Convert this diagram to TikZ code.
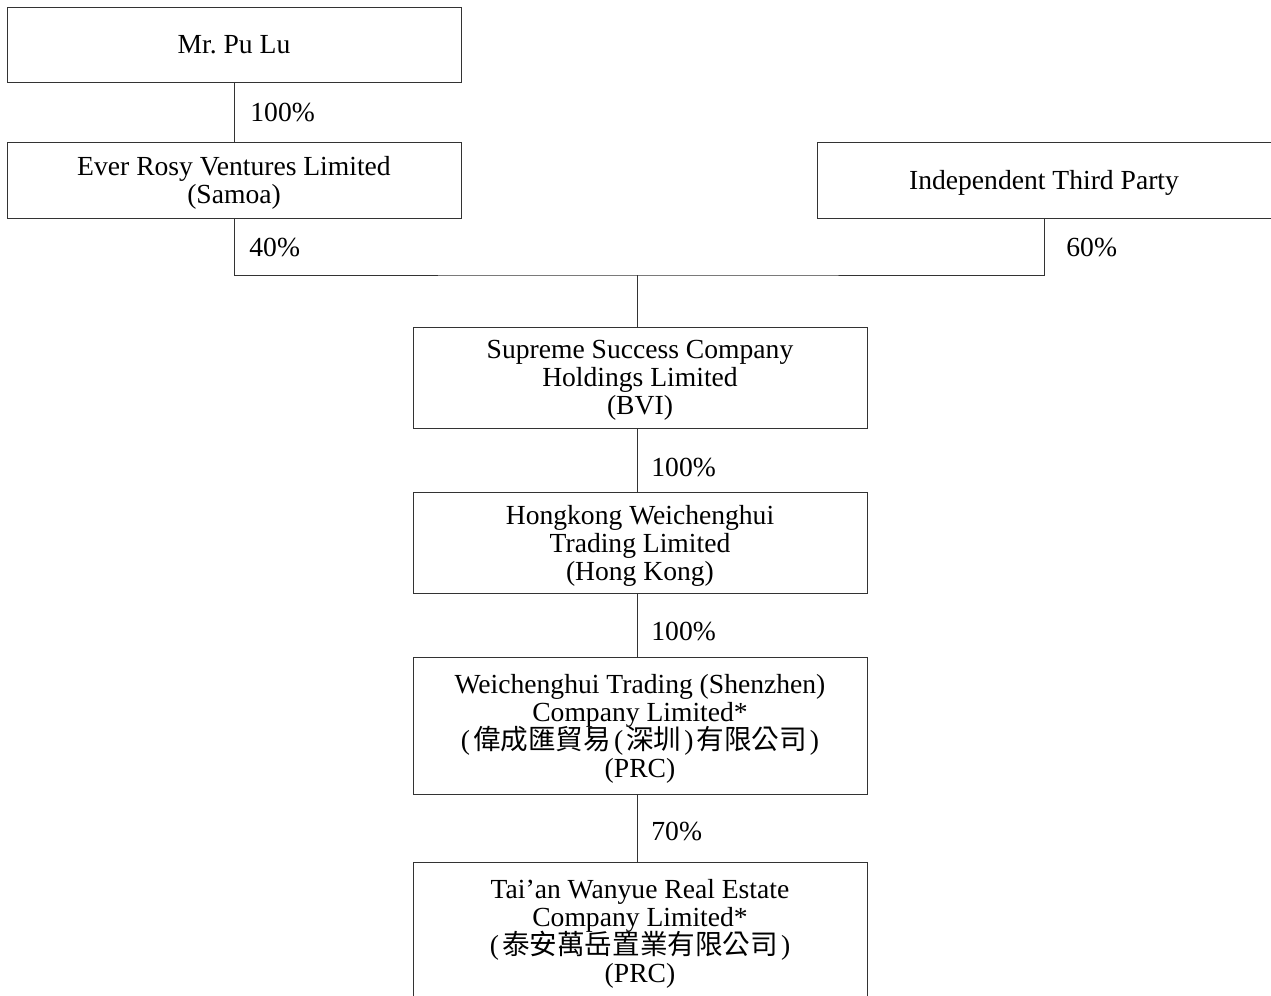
\documentclass[tikz,border=0pt]{standalone}
\usepackage{fontspec}
\setmainfont{Liberation Serif}
\newfontfamily\cjk{Noto Sans CJK TC}
\newcommand\zhopen{{\rmfamily\kern1.5pt(\kern1.5pt}}
\newcommand\zhclose{{\rmfamily\kern1.5pt)\kern1.5pt}}
\newcommand\tightlines{\lineskiplimit=-20pt\relax}
\begin{document}
\begin{tikzpicture}[x=0.5pt,y=-0.5pt,
  entity/.style={draw=black!80,line width=0.5pt,minimum width=227pt,align=center,
    inner sep=0pt,text depth=0pt,font=\fontsize{13.8}{14}\selectfont,execute at begin node=\tightlines},
  link/.style={draw=black!80,line width=0.5pt},
  pct/.style={anchor=west,inner sep=0pt,font=\fontsize{13.8}{14}\selectfont}]
\useasboundingbox (0,0) rectangle (1271,996);
% owners
\node[entity,minimum height=37.5pt] (pulu) at (234,44.5) {Mr.\ Pu Lu};
\node[entity,minimum height=38pt] (ever) at (234,180) {Ever Rosy Ventures Limited\\(Samoa)};
\node[entity,minimum height=38pt] (third) at (1044,180) {Independent Third Party};
% group companies
\node[entity,minimum height=50.5pt] (supreme) at (640,377.5) {Supreme Success Company\\Holdings Limited\\(BVI)};
\node[entity,minimum height=50.5pt] (hk) at (640,542.5) {Hongkong Weichenghui\\Trading Limited\\(Hong Kong)};
\node[entity,minimum height=68.5pt,text depth=-4pt] (wch) at (640,725.5)
  {Weichenghui Trading (Shenzhen)\\Company Limited*\\\smash{\cjk\zhopen 偉成匯貿易\zhopen 深圳\zhclose 有限公司\zhclose}\\(PRC)};
\node[entity,minimum height=70pt,text depth=1pt] (taian) at (640,932)
  {Tai’an Wanyue Real Estate\\Company Limited*\\\smash{\cjk\zhopen 泰安萬岳置業有限公司\zhclose}\\(PRC)};
% connectors
\coordinate (bar) at (637,275);
\draw[link] (pulu.south) -- (ever.north);
\draw[link] (ever.south) |- (bar) -| (third.south);
\draw[link] (bar) -- (bar |- supreme.north);
\draw[link] (supreme.south -| bar) -- (hk.north -| bar);
\draw[link] (hk.south -| bar) -- (wch.north -| bar);
\draw[link] (wch.south -| bar) -- (taian.north -| bar);
% shareholdings
\node[pct] (p1) at (250,113) {100\%};
\node[pct] (p2) at (249,248) {40\%};
\node[pct] (p3) at (1066,248) {60\%};
\node[pct] (p4) at (651,467) {100\%};
\node[pct] (p5) at (651,631) {100\%};
\node[pct] (p6) at (651,831) {70\%};
\end{tikzpicture}
\end{document}
